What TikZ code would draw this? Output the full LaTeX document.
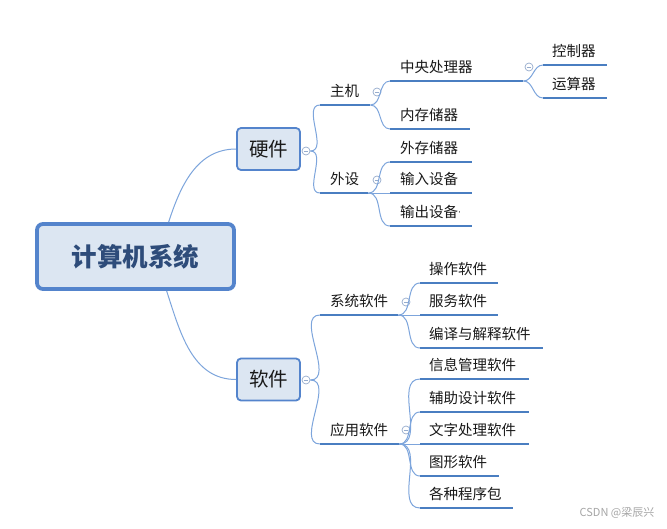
\documentclass[tikz,border=0pt]{standalone}
\usepackage{fontspec}
\setmainfont{Noto Sans CJK SC}
\newfontfamily\dvs{DejaVu Sans}
\usetikzlibrary{calc}
\definecolor{ul}{RGB}{74,126,193}
\definecolor{cn}{RGB}{125,165,220}
\definecolor{bx}{RGB}{84,132,204}
\definecolor{bf}{RGB}{220,230,242}
\definecolor{rt}{RGB}{46,76,122}
\definecolor{tg}{RGB}{150,172,205}
\definecolor{tx}{RGB}{25,25,25}
\begin{document}
\begin{tikzpicture}[x=1pt,y=1pt,
  lab/.style={anchor=south west, inner sep=0pt, text width=#1, align=left,
    text height=12pt, text depth=8pt, font=\fontsize{14.5}{16}\selectfont, text=tx},
  uline/.style={draw=ul, line width=2.8pt},
  conn/.style={draw=cn, line width=1pt},
  tog/.style={circle, draw=tg, fill=white, line width=0.7pt, minimum size=8pt, inner sep=0pt,
    path picture={\draw[tg, line width=0.7pt] ($(path picture bounding box.center)+(-2.2,0)$) -- ($(path picture bounding box.center)+(2.2,0)$);}},
  rootbox/.style={draw=bx, fill=bf, line width=3.8pt, rounded corners=6pt, minimum width=197pt, minimum height=65pt,
    font=\fontsize{25.5}{28}\selectfont\bfseries, text=rt},
  subbox/.style={draw=bx, fill=bf, line width=1.8pt, rounded corners=4pt, minimum width=63pt, minimum height=42pt,
    font=\fontsize{19.5}{22}\selectfont, text=tx}
]
\useasboundingbox[fill=white] (0,0) rectangle (667,-528);

% main boxes
\node[rootbox] (root) at (135.5,-256.5) {计算机系统};
\node[subbox] (hw) at (268.5,-149) {硬件};
\node[subbox] (sw) at (268.5,-379.5) {软件};
\node[tog] (hwc) at (306,-151) {};
\node[tog] (swc) at (306,-380) {};

\coordinate (rt1) at ($(root.north west)!0.665!(root.north east)$);
\coordinate (rb1) at ($(root.south west)!0.655!(root.south east)$);
\draw[conn] (rt1) to[out=72,in=180] (hw.west);
\draw[conn] (rb1) to[out=-72,in=180] (sw.west);

% level 2
\node[lab=50pt] (zj) at (320,-105) {\hspace*{10pt}主机};
\node[lab=48pt] (ws) at (320,-193) {\hspace*{10pt}外设};
\node[lab=78pt] (xt) at (320,-315) {\hspace*{10pt}系统软件};
\node[lab=79pt] (yy) at (320,-444) {\hspace*{10pt}应用软件};
\node[tog] (zjc) at (377,-92) {};
\node[tog] (wsc) at (377,-180) {};
\node[tog] (xtc) at (406,-302) {};
\node[tog] (yyc) at (406,-430) {};

% level 3
\node[lab=133pt] (cpu) at (390,-81) {\hspace*{10pt}中央处理器};
\node[lab=80pt] (nc) at (390,-129) {\hspace*{10pt}内存储器};
\node[lab=82pt] (wc) at (390,-162) {\hspace*{10pt}外存储器};
\node[lab=82pt] (sr) at (390,-193) {\hspace*{10pt}输入设备};
\node[lab=82pt] (sc) at (390,-226) {\hspace*{10pt}输出设备\raisebox{2.5pt}{\dvs\fontsize{9}{10}\selectfont ·}};
\node[tog] (cpuc) at (529,-67) {};

\node[lab=78pt] (cz) at (420,-283) {\hspace*{9pt}操作软件};
\node[lab=78pt] (fw) at (420,-315) {\hspace*{9pt}服务软件};
\node[lab=123pt] (by) at (420,-348) {\hspace*{9pt}编译与解释软件};
\node[lab=109pt] (xx) at (420,-379) {\hspace*{9pt}信息管理软件};
\node[lab=109pt] (fz) at (420,-412) {\hspace*{9pt}辅助设计软件};
\node[lab=109pt] (wz) at (420,-444) {\hspace*{9pt}文字处理软件};
\node[lab=79pt] (tx) at (420,-476) {\hspace*{9pt}图形软件};
\node[lab=93pt] (gz) at (420,-508) {\hspace*{9pt}各种程序包};

% level 4
\node[lab=64pt] (kz) at (543,-65) {\hspace*{9pt}控制器};
\node[lab=64pt] (ys) at (543,-98) {\hspace*{9pt}运算器};

% connectors
\draw[conn] (hwc.east) to[out=0,in=180] (zj.south west);
\draw[conn] (hwc.east) to[out=0,in=180] (ws.south west);
\draw[conn] (swc.east) to[out=0,in=180] (xt.south west);
\draw[conn] (swc.east) to[out=0,in=180] (yy.south west);

\draw[conn] (zj.south east) to[out=0,in=180] (cpu.south west);
\draw[conn] (zj.south east) to[out=0,in=180] (nc.south west);
\draw[conn] (ws.south east) to[out=0,in=180] (wc.south west);
\draw[conn] (ws.south east) -- (sr.south west);
\draw[conn] (ws.south east) to[out=0,in=180] (sc.south west);

\draw[conn] (cpu.south east) to[out=0,in=180] (kz.south west);
\draw[conn] (cpu.south east) to[out=0,in=180] (ys.south west);

\draw[conn] (xt.south east) to[out=0,in=180] (cz.south west);
\draw[conn] (xt.south east) -- (fw.south west);
\draw[conn] (xt.south east) to[out=0,in=180] (by.south west);

\draw[conn] (yy.south east) to[out=0,in=180] (xx.south west);
\draw[conn] (yy.south east) to[out=0,in=180] (fz.south west);
\draw[conn] (yy.south east) -- (wz.south west);
\draw[conn] (yy.south east) to[out=0,in=180] (tx.south west);
\draw[conn] (yy.south east) to[out=0,in=180] (gz.south west);

% underlines
\foreach \n in {zj,ws,xt,yy,cpu,nc,wc,sr,sc,cz,fw,by,xx,fz,wz,tx,gz,kz,ys}
  \draw[uline] (\n.south west) -- (\n.south east);

\node[font=\fontsize{11}{13}\selectfont, text=black!35] (wm) at (617,-513) {CSDN @梁辰兴};
\end{tikzpicture}
\end{document}
